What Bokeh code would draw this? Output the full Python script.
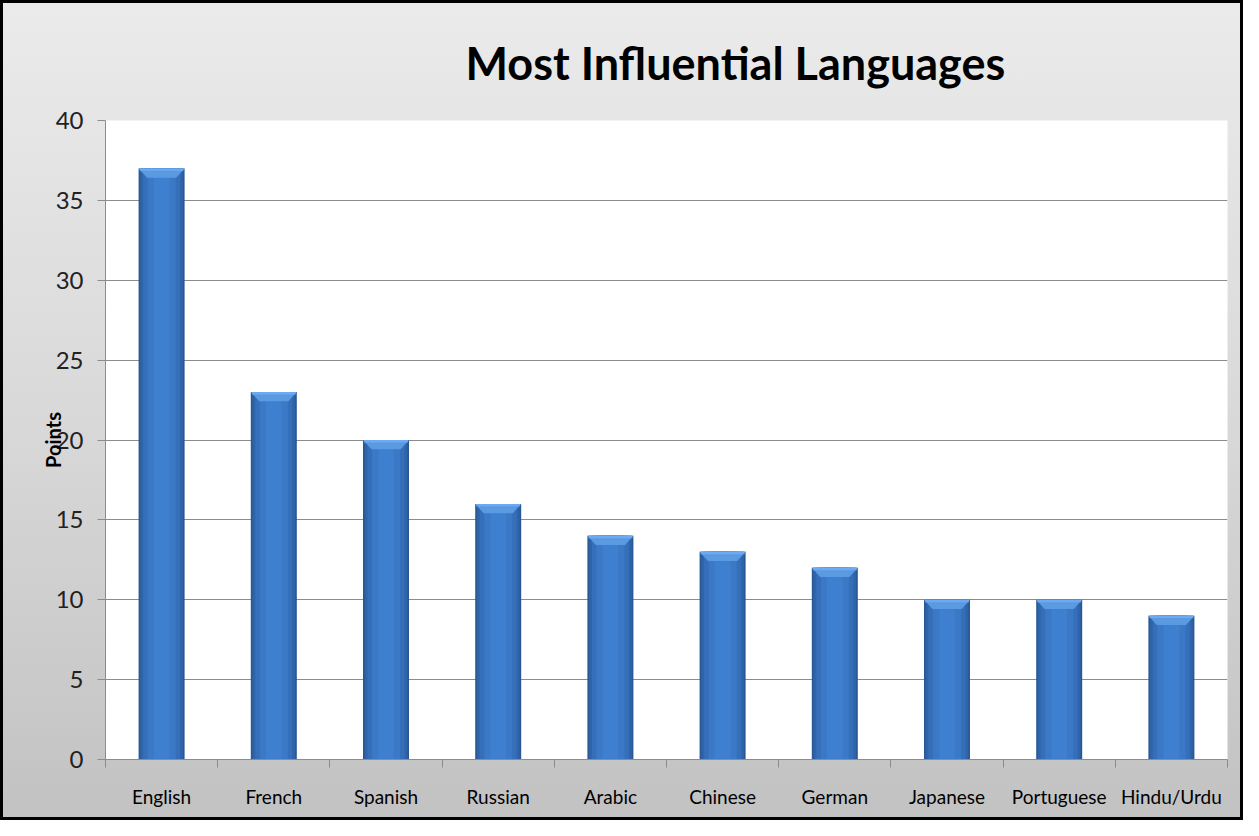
from bokeh.plotting import figure
from bokeh.models import Range1d, FixedTicker
from bokeh.embed import file_html
from bokeh.resources import INLINE
import numpy as np

languages = ["English", "French", "Spanish", "Russian", "Arabic",
             "Chinese", "German", "Japanese", "Portuguese", "Hindu/Urdu"]
points = [37, 23, 20, 16, 14, 13, 12, 10, 10, 9]
y_ticks = [0, 5, 10, 15, 20, 25, 30, 35, 40]

n = len(languages)
centers = np.arange(n) + 0.5
bounds = list(np.arange(n + 1).astype(float))
vals = np.array(points, dtype=float)

p = figure(width=1243, height=820, output_backend="svg", toolbar_location=None,
           x_range=Range1d(0, n), y_range=Range1d(0, 40),
           min_border_left=105, min_border_right=16,
           min_border_top=120, min_border_bottom=61,
           border_fill_color=None, background_fill_color="white",
           outline_line_color=None)
p.styles = {"background": "linear-gradient(to bottom, #ebebeb 0%, #d9d9d9 50%, #c2c2c2 100%)",
            "outline": "3px solid black", "outline-offset": "-3px"}

p.title.text = "Most Influential Languages"
p.title.text_font = "Lato"
p.title.text_font_size = "45px"
p.title.text_font_style = "bold"
p.title.text_color = "black"
p.title.align = "left"
p.title.offset = 360
p.title.standoff = 61

# bars: layered for a cylinder-like shading
W = 0.41
layers = [(W, "#2a5894"), (0.38, "#3064a8"), (0.33, "#366fb9"), (0.25, "#3b79c7"), (0.14, "#3e7fcf")]
for w, c in layers:
    p.vbar(x=centers, top=vals, bottom=0, width=w, fill_color=c, line_color=None)

# bevelled top cap
cap = 0.58
inset = 0.075
cap_xs = [[c - W / 2, c + W / 2, c + W / 2 - inset, c - W / 2 + inset] for c in centers]
cap_ys = [[v, v, v - cap, v - cap] for v in vals]
p.patches(xs=cap_xs, ys=cap_ys, fill_color="#5a9ae3", line_color=None)
p.vbar(x=centers, top=vals, bottom=vals - 0.15, width=W - 0.02, fill_color="#6eaaee", line_color=None)

# y axis
p.yaxis.ticker = FixedTicker(ticks=y_ticks)
p.yaxis.axis_line_color = "#8c8c8c"
p.yaxis.major_tick_line_color = "#8c8c8c"
p.yaxis.major_tick_out = 8
p.yaxis.major_tick_in = 0
p.yaxis.minor_tick_line_color = None
p.yaxis.major_label_text_font = "Lato"
p.yaxis.major_label_text_font_size = "24px"
p.yaxis.major_label_text_color = "#222222"
p.yaxis.major_label_standoff = 14
p.yaxis.axis_label = "Points"
p.yaxis.axis_label_text_font = "Lato"
p.yaxis.axis_label_text_font_size = "20px"
p.yaxis.axis_label_text_font_style = "bold"
p.yaxis.axis_label_text_color = "black"
p.yaxis.axis_label_standoff = -12

# x axis
p.xaxis.ticker = FixedTicker(ticks=list(centers), minor_ticks=bounds)
p.xaxis.major_label_overrides = {float(c): name for c, name in zip(centers, languages)}
p.xaxis.axis_line_color = "#8c8c8c"
p.xaxis.major_tick_line_color = None
p.xaxis.major_tick_out = 0
p.xaxis.major_tick_in = 0
p.xaxis.minor_tick_line_color = "#8c8c8c"
p.xaxis.minor_tick_out = 8
p.xaxis.minor_tick_in = 0
p.xaxis.major_label_text_font = "Lato"
p.xaxis.major_label_text_font_size = "19px"
p.xaxis.major_label_text_color = "black"
p.xaxis.major_label_standoff = 17

p.xgrid.grid_line_color = None
p.ygrid.grid_line_color = "#8c8c8c"
p.ygrid.ticker = FixedTicker(ticks=y_ticks)

open("out.html", "w").write(file_html(p, INLINE))
